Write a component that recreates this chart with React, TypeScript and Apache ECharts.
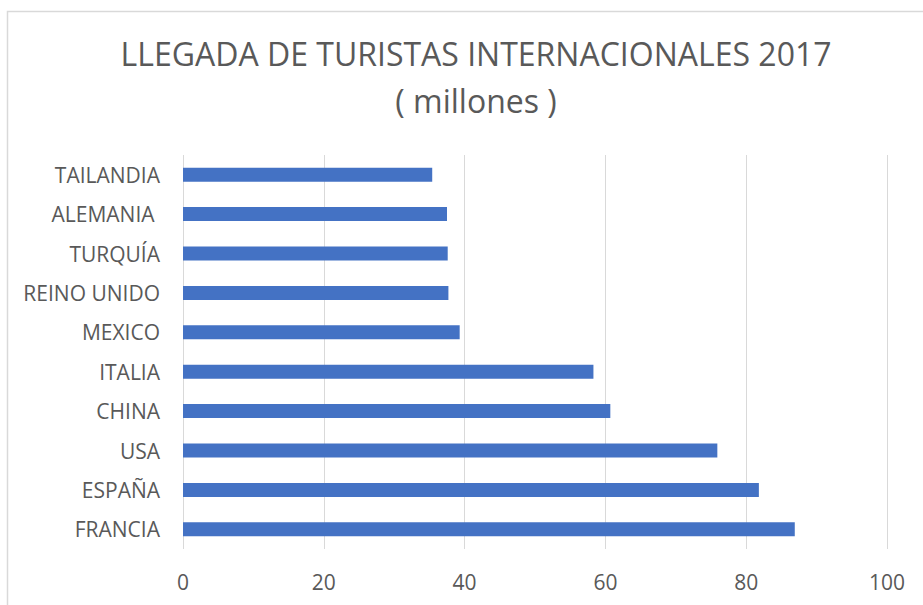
import React, { useEffect, useRef } from "react";
import * as echarts from "echarts";

const titleLines = ["LLEGADA DE TURISTAS INTERNACIONALES 2017", "( millones )"];
const countries = [
  "FRANCIA",
  "ESPAÑA",
  "USA",
  "CHINA",
  "ITALIA",
  "MEXICO",
  "REINO UNIDO",
  "TURQUÍA",
  "ALEMANIA ",
  "TAILANDIA",
];
const arrivals = [86.9, 81.8, 75.9, 60.7, 58.3, 39.3, 37.7, 37.6, 37.5, 35.4];
const xTicks = { min: 0, max: 100, interval: 20 };

const TEXT = "#595959";
const GRID = "#d9d9d9";
const BAR = "#4472c4";
const FONT = "'Open Sans', 'Noto Sans', sans-serif";

export default function App() {
  const ref = useRef<HTMLDivElement>(null);
  useEffect(() => {
    if (!ref.current) return;
    const chart = echarts.init(ref.current, undefined, { renderer: "svg" });
    chart.setOption({
      animation: false,
      backgroundColor: "#ffffff",
      title: {
        text: titleLines.join("\n"),
        left: 471,
        top: 25,
        textAlign: "center",
        textStyle: {
          color: TEXT,
          fontFamily: FONT,
          fontSize: 32,
          fontWeight: 400,
          lineHeight: 47,
        },
      },
      graphic: [
        {
          type: "rect",
          silent: true,
          shape: { x: 7.5, y: 11.5, width: 1000, height: 1000 },
          style: { fill: "none", stroke: GRID, lineWidth: 1.5 },
        },
      ],
      grid: { left: 183, right: 36, top: 155, bottom: 56, containLabel: false },
      xAxis: {
        type: "value",
        min: xTicks.min,
        max: xTicks.max,
        interval: xTicks.interval,
        axisLine: { show: false },
        axisTick: { show: false },
        splitLine: { show: true, lineStyle: { color: GRID, width: 1 } },
        axisLabel: {
          color: TEXT,
          fontFamily: FONT,
          fontSize: 21,
          margin: 22,
        },
      },
      yAxis: {
        type: "category",
        data: countries,
        axisLine: { show: false },
        axisTick: { show: false },
        splitLine: { show: false },
        axisLabel: {
          color: TEXT,
          fontFamily: FONT,
          fontSize: 21,
          margin: 23,
        },
      },
      series: [
        {
          type: "bar",
          data: arrivals,
          barWidth: 14,
          itemStyle: { color: BAR },
        },
      ],
    });
    return () => chart.dispose();
  }, []);
  return (
    <div
      ref={ref}
      style={{ position: "fixed", left: 0, top: 0, width: 923, height: 605 }}
    />
  );
}
